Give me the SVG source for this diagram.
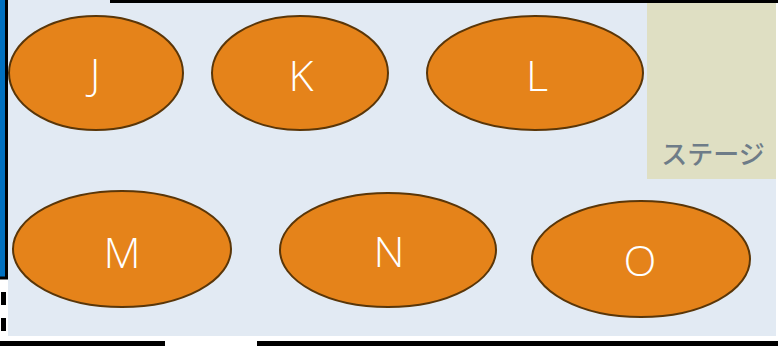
<svg xmlns="http://www.w3.org/2000/svg" width="778" height="346" viewBox="0 0 778 346">
<style>
.seat{fill:#E5831A;stroke:#5A3608;stroke-width:2}
.lbl{fill:#FFFFFF;font-family:"Open Sans","Liberation Sans",sans-serif;font-weight:350;font-size:43px;text-anchor:middle}
.stage-t{fill:#6E7C88;font-family:"Noto Sans CJK JP","Noto Sans",sans-serif;font-weight:500;font-size:26px;text-anchor:middle}
</style>
<rect x="0" y="0" width="778" height="346" fill="#FFFFFF"/>
<rect x="8" y="0" width="768" height="336" fill="#E2EAF3"/>
<rect x="110" y="0" width="668" height="3" fill="#000000"/>
<rect x="-10" y="-10" width="16.5" height="288" fill="#0070C0" stroke="#000000" stroke-width="3"/>
<line x1="3.5" y1="292" x2="3.5" y2="334" stroke="#000000" stroke-width="5" stroke-dasharray="13,13"/>
<rect x="0" y="341" width="165" height="5" fill="#000000"/>
<rect x="257" y="341" width="521" height="5" fill="#000000"/>
<g id="stage">
<rect x="647" y="3" width="129" height="176" fill="#DFDFC3"/>
<text class="stage-t" x="713" y="164">ステージ</text>
</g>
<g id="connectors"></g>
<g id="J"><ellipse class="seat" cx="96" cy="73" rx="87" ry="57"/><text class="lbl" x="95" y="89">J</text></g>
<g id="K"><ellipse class="seat" cx="300" cy="73" rx="88" ry="57"/><text class="lbl" x="301" y="91">K</text></g>
<g id="L"><ellipse class="seat" cx="535" cy="73" rx="108" ry="57"/><text class="lbl" x="537" y="91">L</text></g>
<g id="M"><ellipse class="seat" cx="122" cy="249" rx="109" ry="58"/><text class="lbl" x="122" y="268">M</text></g>
<g id="N"><ellipse class="seat" cx="388" cy="250" rx="108" ry="57"/><text class="lbl" x="389" y="267">N</text></g>
<g id="O"><ellipse class="seat" cx="641" cy="259" rx="109" ry="58"/><text class="lbl" x="640" y="276">O</text></g>
</svg>
